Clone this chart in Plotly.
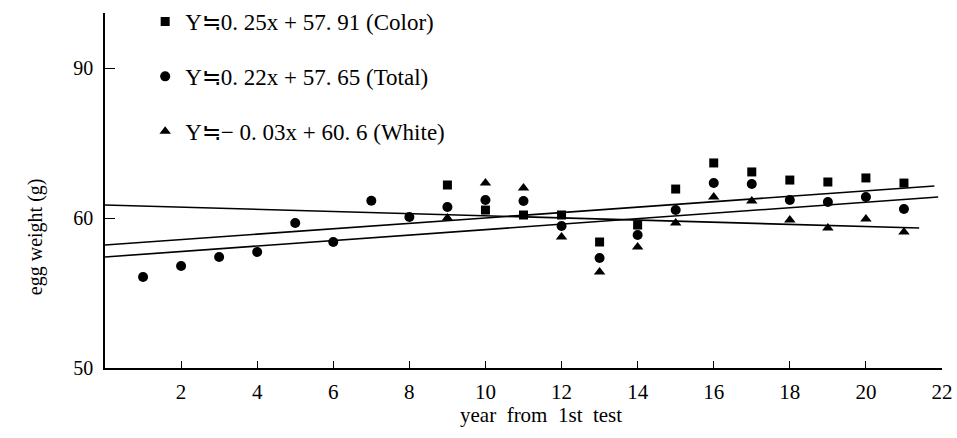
import plotly.graph_objects as go

# ---- data ----
years_total = list(range(1, 22))
total_weight = [56.07, 56.8, 57.4, 57.73, 59.67, 58.4, 61.15, 60.07, 60.73, 61.2,
                61.13, 59.47, 57.33, 58.87, 60.53, 62.33, 62.27, 61.2, 61.07, 61.4, 60.6]

years_split = list(range(9, 22))
color_weight = [62.2, 60.53, 60.2, 60.2, 58.4, 59.53, 61.93, 63.67, 63.07, 62.53, 62.4, 62.67, 62.33]
white_weight = [60.0, 62.33, 62.0, 58.73, 56.4, 58.07, 59.67, 61.4, 61.13, 59.87, 59.33, 59.93, 59.07]

# regression lines as drawn (endpoints)
color_fit_x = [0, 21.8]
color_fit_y = [58.2, 62.13]
total_fit_x = [0, 21.9]
total_fit_y = [57.4, 61.4]
white_fit_x = [0, 21.4]
white_fit_y = [60.87, 59.33]

legend_labels = ["Y\u22520. 25x + 57. 91 (Color)",
                 "Y\u22520. 22x + 57. 65 (Total)",
                 "Y\u2252\u2212 0. 03x + 60. 6 (White)"]

x_ticks = list(range(2, 23, 2))
y_tickvals = [50, 60, 70]
y_ticktext = ["50", "60", "90"]

FONT = "Liberation Serif"

fig = go.Figure()

for fx, fy in [(color_fit_x, color_fit_y), (total_fit_x, total_fit_y), (white_fit_x, white_fit_y)]:
    fig.add_trace(go.Scatter(x=fx, y=fy, mode="lines", line=dict(color="black", width=1.6),
                             showlegend=False, hoverinfo="skip"))

fig.add_trace(go.Scatter(x=years_split, y=color_weight, mode="markers", name=legend_labels[0],
                         legendgroup="a",
                         marker=dict(symbol="square", size=9, color="black")))
fig.add_trace(go.Scatter(x=years_total, y=total_weight, mode="markers", name=legend_labels[1],
                         legendgroup="b",
                         marker=dict(symbol="circle", size=10, color="black")))
fig.add_trace(go.Scatter(x=years_split, y=white_weight, mode="markers", name=legend_labels[2],
                         legendgroup="c",
                         marker=dict(symbol="triangle-up", size=10, color="black")))

fig.update_layout(
    width=957, height=438,
    margin=dict(l=105, r=15, t=13, b=70, autoexpand=False),
    paper_bgcolor="white", plot_bgcolor="white",
    font=dict(family=FONT, size=17, color="black"),
    showlegend=True,
    legend=dict(x=0.048, y=1.0, xref="paper", yref="container", xanchor="left", yanchor="top",
                bgcolor="rgba(0,0,0,0)", traceorder="grouped", tracegroupgap=22,
                font=dict(family=FONT, size=23)),
    xaxis=dict(range=[0, 22], showline=True, linecolor="black", linewidth=1.5,
               showgrid=False, zeroline=False, ticks="inside", ticklen=7,
               tickcolor="black", tickwidth=1.2, ticklabelstandoff=4,
               tickvals=x_ticks, tickfont=dict(family=FONT, size=21)),
    yaxis=dict(range=[50, 50 + 355 / 15], showline=True, linecolor="black", linewidth=1.5,
               showgrid=False, zeroline=False, ticks="inside", ticklen=10,
               tickcolor="black", tickwidth=1.2, ticklabelstandoff=6,
               tickvals=y_tickvals, ticktext=y_ticktext, tickfont=dict(family=FONT, size=20)),
    annotations=[
        dict(text="egg weight (g)", textangle=-90, xref="paper", yref="paper",
             x=-0.083, y=0.37, xanchor="center", yanchor="middle", showarrow=False,
             font=dict(family=FONT, size=20)),
        dict(text="year\u00a0 from\u00a0 1st\u00a0 test", xref="paper", yref="paper",
             x=0.521, y=-0.132, xanchor="center", yanchor="middle", showarrow=False,
             font=dict(family=FONT, size=21)),
    ],
)

fig.write_html("out.html")
